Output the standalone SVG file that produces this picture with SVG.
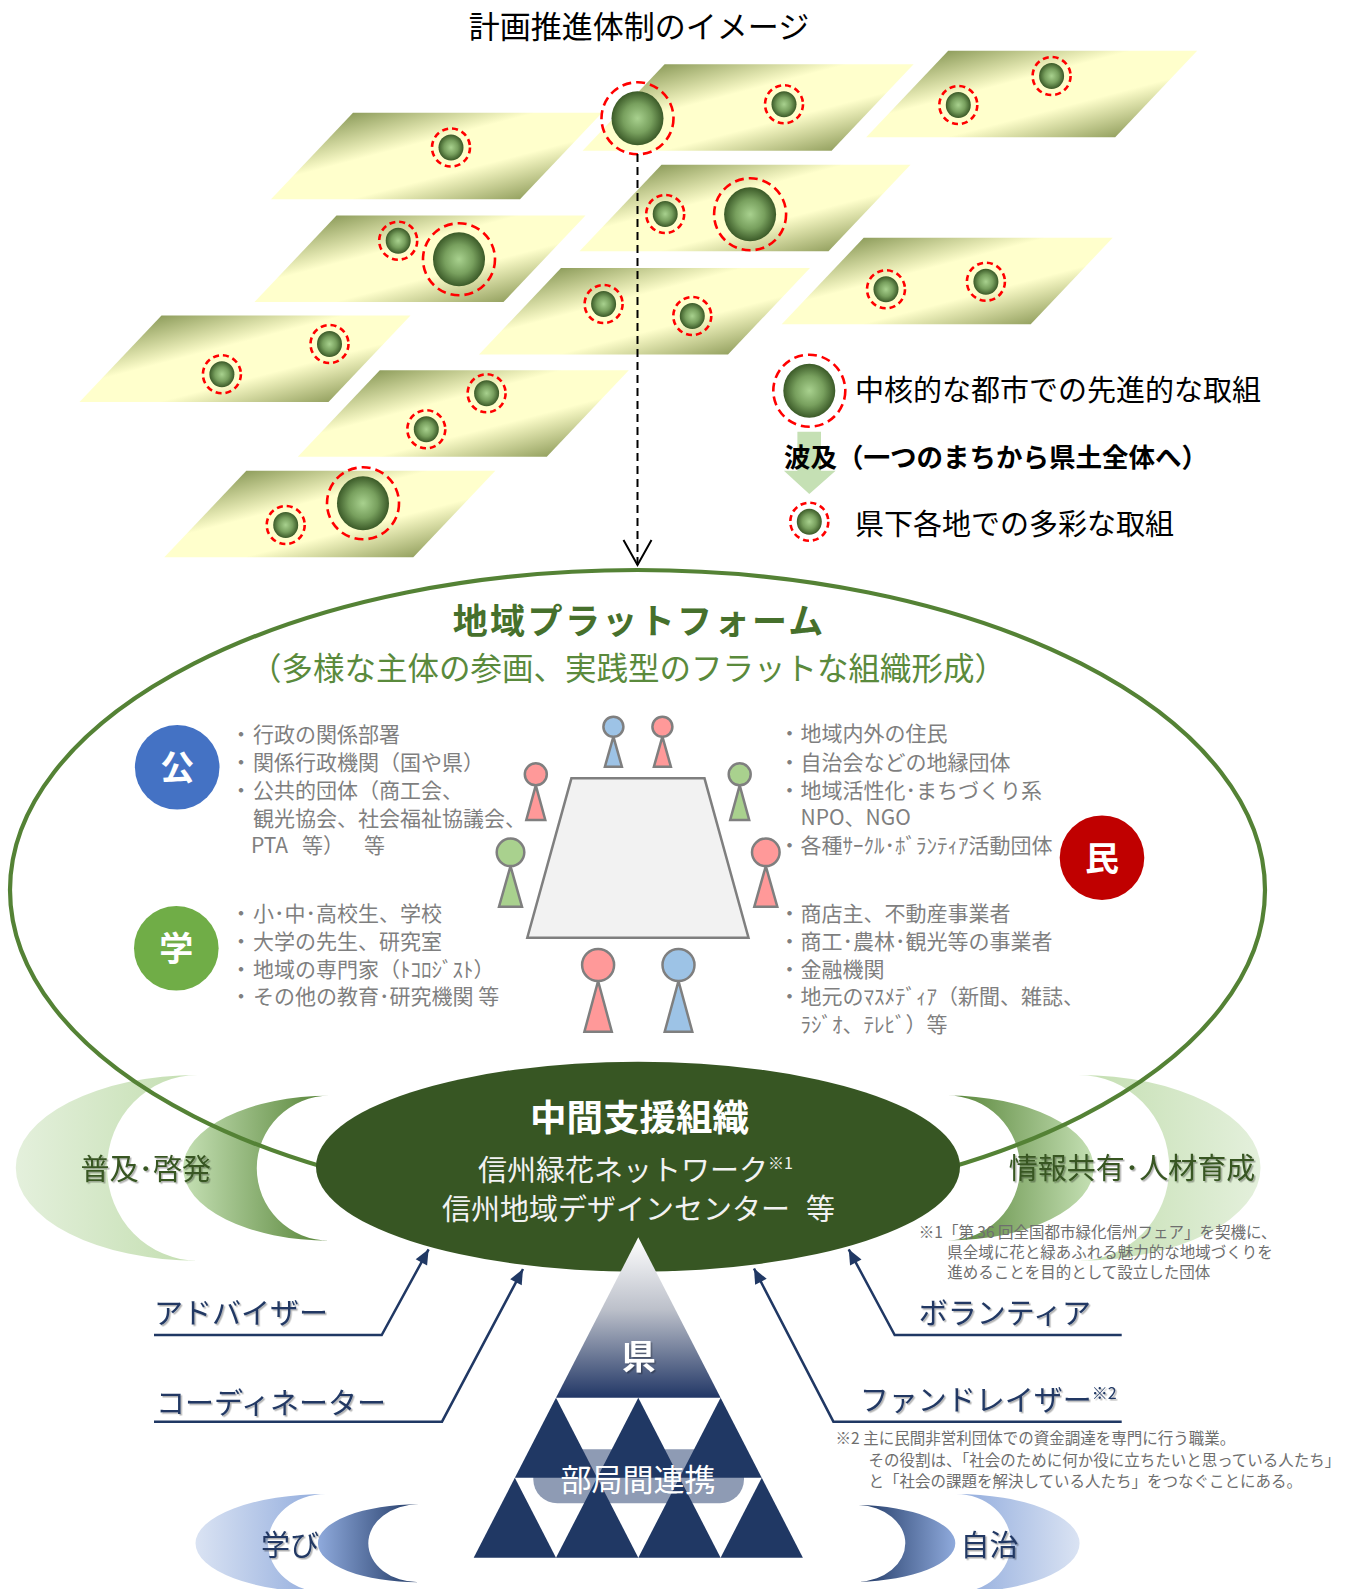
<svg xmlns="http://www.w3.org/2000/svg" width="1367" height="1589" viewBox="0 0 1367 1589">
<defs>
  <style>
    text { font-family: 'Noto Sans CJK JP', 'Noto Sans', sans-serif; }
    .plane { fill: url(#gPlane); }
    .orb { fill: url(#gOrb); }
    .ring { fill: none; stroke: #FF0000; stroke-width: 2.6; }
    .ringS { stroke-dasharray: 6 4; }
    .ringB { stroke-dasharray: 9 5; }
    .list { font-size: 21px; fill: #7F7F7F; }
    .note { font-size: 15.5px; fill: #6E6E6E; }
    .lbl { font-size: 29px; }
    .navyTxt { fill: #203864; filter: url(#fShadow); }
    .greenTxt { fill: #375623; filter: url(#fShadow); }
    .pawn { stroke: #7F7F7F; stroke-width: 2.5; }
    .pBlue { fill: #9DC3E6; }
    .pPink { fill: #FF9999; }
    .pGreen { fill: #A9D18E; }
    .tri { fill: #203864; }
    .lead { fill: none; stroke: #203864; stroke-width: 2.5; marker-end: url(#mNavy); }
    .badge { font-size: 34px; font-weight: 700; fill: #FFFFFF; }
  </style>

  <!-- tilted land plane, drawn from its bottom-left corner -->
  <linearGradient id="gPlane" x1="0" y1="0" x2="1" y2="1">
    <stop offset="0.12" stop-color="#8E9D5C"/>
    <stop offset="0.40" stop-color="#FFFFCC"/>
    <stop offset="0.62" stop-color="#FFFFCC"/>
    <stop offset="0.90" stop-color="#8C9A58"/>
  </linearGradient>
  <radialGradient id="gOrb" cx="0.5" cy="0.5" r="0.5">
    <stop offset="0" stop-color="#A8D18E"/>
    <stop offset="0.55" stop-color="#78A05E"/>
    <stop offset="1" stop-color="#3B5A28"/>
  </radialGradient>
  <linearGradient id="gGreenPaleL" x1="0" y1="0" x2="1" y2="0">
    <stop offset="0" stop-color="#E4F0DC"/>
    <stop offset="1" stop-color="#C3DEB0"/>
  </linearGradient>
  <linearGradient id="gGreenDeepL" x1="0" y1="0" x2="1" y2="0">
    <stop offset="0" stop-color="#C5E0B4"/>
    <stop offset="1" stop-color="#548235"/>
  </linearGradient>
  <linearGradient id="gGreenDeepR" x1="0" y1="0" x2="1" y2="0">
    <stop offset="0" stop-color="#548235"/>
    <stop offset="1" stop-color="#C5E0B4"/>
  </linearGradient>
  <linearGradient id="gGreenPaleR" x1="0" y1="0" x2="1" y2="0">
    <stop offset="0" stop-color="#C3DEB0"/>
    <stop offset="1" stop-color="#E4F0DC"/>
  </linearGradient>
  <linearGradient id="gBluePaleL" x1="0" y1="0" x2="1" y2="0">
    <stop offset="0" stop-color="#DAE3F3"/>
    <stop offset="1" stop-color="#8FAADC"/>
  </linearGradient>
  <linearGradient id="gBlueDeepL" x1="0" y1="0" x2="1" y2="0">
    <stop offset="0" stop-color="#8FAADC"/>
    <stop offset="1" stop-color="#203864"/>
  </linearGradient>
  <linearGradient id="gBlueDeepR" x1="0" y1="0" x2="1" y2="0">
    <stop offset="0" stop-color="#203864"/>
    <stop offset="1" stop-color="#8FAADC"/>
  </linearGradient>
  <linearGradient id="gBluePaleR" x1="0" y1="0" x2="1" y2="0">
    <stop offset="0" stop-color="#8FAADC"/>
    <stop offset="1" stop-color="#DAE3F3"/>
  </linearGradient>
  <linearGradient id="gPyr" x1="0" y1="0" x2="0" y2="1">
    <stop offset="0" stop-color="#FFFFFF"/>
    <stop offset="0.45" stop-color="#BCC0CA"/>
    <stop offset="1" stop-color="#223766"/>
  </linearGradient>

  <filter id="fShadow" x="-10%" y="-30%" width="130%" height="170%">
    <feDropShadow dx="1.5" dy="1.5" stdDeviation="0.7" flood-color="#000000" flood-opacity="0.3"/>
  </filter>

  <marker id="mNavy" markerUnits="userSpaceOnUse" markerWidth="16" markerHeight="14" refX="15" refY="6.5" orient="auto" overflow="visible">
    <path d="M0,0 L15,6.5 L0,13 Z" fill="#203864"/>
  </marker>
  <marker id="mOpen" markerUnits="userSpaceOnUse" markerWidth="28" markerHeight="30" refX="25" refY="14" orient="auto" overflow="visible">
    <path d="M0,0 L25,14 L0,28" fill="none" stroke="#000000" stroke-width="2"/>
  </marker>

  <path id="plane" d="M82,-86.5 L331,-86.5 L249,0 L0,0 Z"/>
  <g id="citySmall">
    <ellipse class="orb" rx="12.5" ry="13"/>
    <circle class="ring ringS" r="19"/>
  </g>
  <g id="cityBig">
    <ellipse class="orb" rx="26" ry="27"/>
    <circle class="ring ringB" r="36"/>
  </g>
</defs>

<rect width="1367" height="1589" fill="#FFFFFF"/>

<!-- title -->
<text id="title" x="639" y="38" font-size="31" text-anchor="middle" fill="#000000">計画推進体制のイメージ</text>

<!-- tilted planes with local initiatives -->
<g id="planes">
  <g id="planeA"><use href="#plane" class="plane" x="271" y="199.3"/><use href="#citySmall" x="451" y="147.5"/></g>
  <g id="planeB"><use href="#plane" class="plane" x="582.6" y="150.7"/><use href="#cityBig" x="637.5" y="118.3"/><use href="#citySmall" x="784" y="104.3"/></g>
  <g id="planeC"><use href="#plane" class="plane" x="866.2" y="137.3"/><use href="#citySmall" x="958.3" y="105"/><use href="#citySmall" x="1051.6" y="76"/></g>
  <g id="planeD"><use href="#plane" class="plane" x="254.5" y="302"/><use href="#citySmall" x="398.2" y="240.7"/><use href="#cityBig" x="459" y="259.3"/></g>
  <g id="planeE"><use href="#plane" class="plane" x="579.5" y="251.3"/><use href="#citySmall" x="665.2" y="214"/><use href="#cityBig" x="750.1" y="214.3"/></g>
  <g id="planeF"><use href="#plane" class="plane" x="479" y="354.5"/><use href="#citySmall" x="603.6" y="304"/><use href="#citySmall" x="692.3" y="316"/></g>
  <g id="planeG"><use href="#plane" class="plane" x="781.7" y="324.3"/><use href="#citySmall" x="886" y="289.3"/><use href="#citySmall" x="985.9" y="281.7"/></g>
  <g id="planeH"><use href="#plane" class="plane" x="79.5" y="402"/><use href="#citySmall" x="221.9" y="374.3"/><use href="#citySmall" x="329.5" y="344"/></g>
  <g id="planeI"><use href="#plane" class="plane" x="297.8" y="456.7"/><use href="#citySmall" x="426.3" y="429.3"/><use href="#citySmall" x="486.6" y="393.3"/></g>
  <g id="planeJ"><use href="#plane" class="plane" x="164.3" y="557.3"/><use href="#citySmall" x="285.7" y="525"/><use href="#cityBig" x="363" y="503.3"/></g>
</g>

<!-- legend -->
<g id="legend">
  <use href="#cityBig" x="809.3" y="390.7"/>
  <text x="855" y="401" font-size="29" fill="#000000">中核的な都市での先進的な取組</text>
  <path d="M797.4,431.7 H821 V470.7 H835.6 L809.3,494 L783.9,470.7 H797.4 Z" fill="#C5E0B4"/>
  <text x="784" y="467" font-size="26.5" font-weight="700" fill="#000000">波及（一つのまちから県土全体へ）</text>
  <use href="#citySmall" x="809.3" y="521.7"/>
  <text x="855" y="535" font-size="29" fill="#000000">県下各地での多彩な取組</text>
</g>

<!-- side crescents -->
<g id="spread">
  <path d="M197.8,1075 A182.2,92.85 0 0 0 197.8,1260.7 A90.8,92.85 0 0 1 197.8,1075 Z" fill="url(#gGreenPaleL)"/>
  <path d="M329.5,1095.7 A146.5,72.5 0 0 0 329.5,1240.7 A72.8,72.5 0 0 1 329.5,1095.7 Z" fill="url(#gGreenDeepL)"/>
  <text class="lbl greenTxt" x="80.4" y="1180">普及･啓発</text>
</g>
<g id="sharing">
  <path d="M1078.5,1075 A182.2,92.85 0 0 1 1078.5,1260.7 A90.8,92.85 0 0 0 1078.5,1075 Z" fill="url(#gGreenPaleR)"/>
  <path d="M947.3,1095.5 A146.5,72.5 0 0 1 947.3,1240.5 A72.8,72.5 0 0 0 947.3,1095.5 Z" fill="url(#gGreenDeepR)"/>
  <text class="lbl greenTxt" x="1008.7" y="1179">情報共有･人材育成</text>
</g>

<!-- regional platform -->
<g id="platform">
  <ellipse cx="637.5" cy="890" rx="627.5" ry="320" fill="none" stroke="#548235" stroke-width="4.2"/>
  <text x="452.7" y="634" font-size="35" font-weight="700" letter-spacing="2.4" fill="#46702C">地域プラットフォーム</text>
  <text x="250" y="680" font-size="31.5" fill="#5A8A3C">（多様な主体の参画、実践型のフラットな組織形成）</text>
</g>

<g id="badgePublic">
  <circle cx="177.2" cy="767.3" r="42.3" fill="#4472C4"/>
  <text class="badge" x="177.2" y="780" text-anchor="middle">公</text>
</g>
<g id="badgeAcademic">
  <circle cx="176.3" cy="948.3" r="42.3" fill="#70AD47"/>
  <text class="badge" x="176.3" y="961" text-anchor="middle">学</text>
</g>
<g id="badgePrivate">
  <circle cx="1102" cy="857.7" r="42.3" fill="#C00000"/>
  <text class="badge" x="1102" y="870.5" text-anchor="middle">民</text>
</g>

<g id="listPublic" class="list">
  <text><tspan x="230.5" y="741.5">・</tspan><tspan x="253" y="741.5">行政の関係部署</tspan></text>
  <text><tspan x="230.5" y="769.5">・</tspan><tspan x="253" y="769.5">関係行政機関（国や県）</tspan></text>
  <text><tspan x="230.5" y="797.5">・</tspan><tspan x="253" y="797.5">公共的団体（商工会、</tspan></text>
  <text x="253" y="825.5">観光協会、社会福祉協議会、</text>
  <text y="853"><tspan x="251">PTA</tspan><tspan x="302">等）</tspan><tspan x="364">等</tspan></text>
</g>
<g id="listAcademic" class="list">
  <text><tspan x="230.5" y="921.3">・</tspan><tspan x="253" y="921.3">小･中･高校生、学校</tspan></text>
  <text><tspan x="230.5" y="949">・</tspan><tspan x="253" y="949">大学の先生、研究室</tspan></text>
  <text><tspan x="230.5" y="976.5">・</tspan><tspan x="253" y="976.5">地域の専門家（ﾄｺﾛｼﾞｽﾄ）</tspan></text>
  <text><tspan x="230.5" y="1004">・</tspan><tspan x="253" y="1004">その他の教育･研究機関 等</tspan></text>
</g>
<g id="listCitizens" class="list">
  <text><tspan x="779" y="741">・</tspan><tspan x="800.5" y="741">地域内外の住民</tspan></text>
  <text><tspan x="779" y="769.5">・</tspan><tspan x="800.5" y="769.5">自治会などの地縁団体</tspan></text>
  <text><tspan x="779" y="798">・</tspan><tspan x="800.5" y="798">地域活性化･まちづくり系</tspan></text>
  <text x="800.5" y="825">NPO、NGO</text>
  <text><tspan x="779" y="853">・</tspan><tspan x="800.5" y="853">各種ｻｰｸﾙ･ﾎﾞﾗﾝﾃｨｱ活動団体</tspan></text>
</g>
<g id="listBusiness" class="list">
  <text><tspan x="779" y="921.3">・</tspan><tspan x="800.5" y="921.3">商店主、不動産事業者</tspan></text>
  <text><tspan x="779" y="949">・</tspan><tspan x="800.5" y="949">商工･農林･観光等の事業者</tspan></text>
  <text><tspan x="779" y="976.5">・</tspan><tspan x="800.5" y="976.5">金融機関</tspan></text>
  <text><tspan x="779" y="1004">・</tspan><tspan x="800.5" y="1004">地元のﾏｽﾒﾃﾞｨｱ（新聞、雑誌、</tspan></text>
  <text x="800.5" y="1031.5">ﾗｼﾞｵ、ﾃﾚﾋﾞ）等</text>
</g>

<!-- round table with participants -->
<g id="table">
  <path d="M571.4,778.3 L704.5,778.3 L748.5,937.7 L527.3,937.7 Z" fill="#F2F2F2" stroke="#7F7F7F" stroke-width="2.5"/>
</g>
<g id="people">
  <g class="pawn pBlue"><path d="M613.4,736.7 L621.9,766.7 L604.9,766.7 Z"/><circle cx="613.4" cy="726.7" r="10"/></g>
  <g class="pawn pPink"><path d="M662.4,736.7 L670.9,766.7 L653.9,766.7 Z"/><circle cx="662.4" cy="726.7" r="10"/></g>
  <g class="pawn pPink"><path d="M535.8,785.3 L545.3,820 L526.3,820 Z"/><circle cx="535.8" cy="774.3" r="11"/></g>
  <g class="pawn pGreen"><path d="M739.7,785.3 L749.2,820 L730.2,820 Z"/><circle cx="739.7" cy="774.3" r="11"/></g>
  <g class="pawn pGreen"><path d="M510.5,866.1 L522,906.7 L499,906.7 Z"/><circle cx="510.5" cy="852.3" r="13.8"/></g>
  <g class="pawn pPink"><path d="M765.8,866.1 L777.3,906.7 L754.3,906.7 Z"/><circle cx="765.8" cy="852.3" r="13.8"/></g>
  <g class="pawn pPink"><path d="M598.1,981 L611.8,1031.7 L584.4,1031.7 Z"/><circle cx="598.1" cy="965" r="16"/></g>
  <g class="pawn pBlue"><path d="M678.5,981 L692.3,1031.7 L664.7,1031.7 Z"/><circle cx="678.5" cy="965" r="16"/></g>
</g>

<!-- intermediate support organisation -->
<g id="support">
  <ellipse cx="638" cy="1166.7" rx="322" ry="105" fill="#375623"/>
  <text x="639.5" y="1131" font-size="36.5" font-weight="700" text-anchor="middle" fill="#FFFFFF">中間支援組織</text>
  <text x="478" y="1181" font-size="29" fill="#F2F2F2">信州緑花ネットワーク<tspan font-size="16" dy="-12">※1</tspan></text>
  <text x="442" y="1220" font-size="29" fill="#F2F2F2">信州地域デザインセンター<tspan x="806">等</tspan></text>
</g>

<g id="note1" class="note">
  <text x="918.8" y="1237.5">※1「第 36 回全国都市緑化信州フェア」を契機に、</text>
  <text x="947.3" y="1257.5">県全域に花と緑あふれる魅力的な地域づくりを</text>
  <text x="947.3" y="1277.5">進めることを目的として設立した団体</text>
</g>

<!-- prefecture pyramid -->
<g id="prefecture">
  <rect x="533.3" y="1449.3" width="210.7" height="54" rx="24" fill="#8E9BB4"/>
  <path d="M638.3,1237.3 L720.6,1397.7 L556,1397.7 Z" fill="url(#gPyr)"/>
  <path class="tri" d="M556,1397.7 L597.15,1477.7 L514.85,1477.7 Z"/>
  <path class="tri" d="M638.3,1397.7 L679.45,1477.7 L597.15,1477.7 Z"/>
  <path class="tri" d="M720.6,1397.7 L761.75,1477.7 L679.45,1477.7 Z"/>
  <path class="tri" d="M514.85,1477.7 L556,1557.7 L473.7,1557.7 Z"/>
  <path class="tri" d="M597.15,1477.7 L638.3,1557.7 L556,1557.7 Z"/>
  <path class="tri" d="M679.45,1477.7 L720.6,1557.7 L638.3,1557.7 Z"/>
  <path class="tri" d="M761.75,1477.7 L802.9,1557.7 L720.6,1557.7 Z"/>
  <text x="638.8" y="1369" font-size="34" font-weight="700" text-anchor="middle" fill="#FFFFFF" filter="url(#fShadow)">県</text>
  <text x="638" y="1491" font-size="31" text-anchor="middle" fill="#FFFFFF">部局間連携</text>
</g>

<!-- supporters -->
<g id="advisor"><text class="lbl navyTxt" x="154" y="1324">アドバイザー</text></g>
<g id="coordinator"><text class="lbl navyTxt" x="156" y="1414">コーディネーター</text></g>
<g id="volunteer"><text class="lbl navyTxt" x="918.8" y="1324">ボランティア</text></g>
<g id="fundraiser"><text class="lbl navyTxt" x="859.7" y="1411">ファンドレイザー<tspan font-size="16" dy="-12">※2</tspan></text></g>

<g id="note2" class="note">
  <text x="835.6" y="1444">※2 主に民間非営利団体での資金調達を専門に行う職業。</text>
  <text x="868.4" y="1465.5">その役割は、「社会のために何か役に立ちたいと思っている人たち」</text>
  <text x="868.4" y="1487">と「社会の課題を解決している人たち」をつなぐことにある。</text>
</g>

<!-- learning / self-government crescents -->
<g id="learning">
  <path d="M326,1494 A130.5,49.3 0 0 0 326,1592.6 A58,49.3 0 0 1 326,1494 Z" fill="url(#gBluePaleL)"/>
  <path d="M418.8,1504.3 A100.9,39 0 0 0 418.8,1582.3 A50.5,39 0 0 1 418.8,1504.3 Z" fill="url(#gBlueDeepL)"/>
  <text class="lbl navyTxt" x="261" y="1556">学び</text>
</g>
<g id="selfgov">
  <path d="M956,1494 A123.6,49.3 0 0 1 956,1592.6 A55,49.3 0 0 0 956,1494 Z" fill="url(#gBluePaleR)"/>
  <path d="M858.8,1505 A101.7,38.4 0 0 1 858.8,1581.7 A49,38.4 0 0 0 858.8,1505 Z" fill="url(#gBlueDeepR)"/>
  <text class="lbl navyTxt" x="960.5" y="1556">自治</text>
</g>

<!-- connectors -->
<g id="connectors">
  <path d="M637.5,154 V565" fill="none" stroke="#000000" stroke-width="2" stroke-dasharray="8 5" marker-end="url(#mOpen)"/>
  <path class="lead" d="M154,1335 H381.7 L428.6,1249.3"/>
  <path class="lead" d="M154,1421.7 H442 L523,1269"/>
  <path class="lead" d="M1121.7,1335 H894.7 L848.7,1249.3"/>
  <path class="lead" d="M1121.7,1421.7 H833.4 L754,1268.5"/>
</g>
</svg>
